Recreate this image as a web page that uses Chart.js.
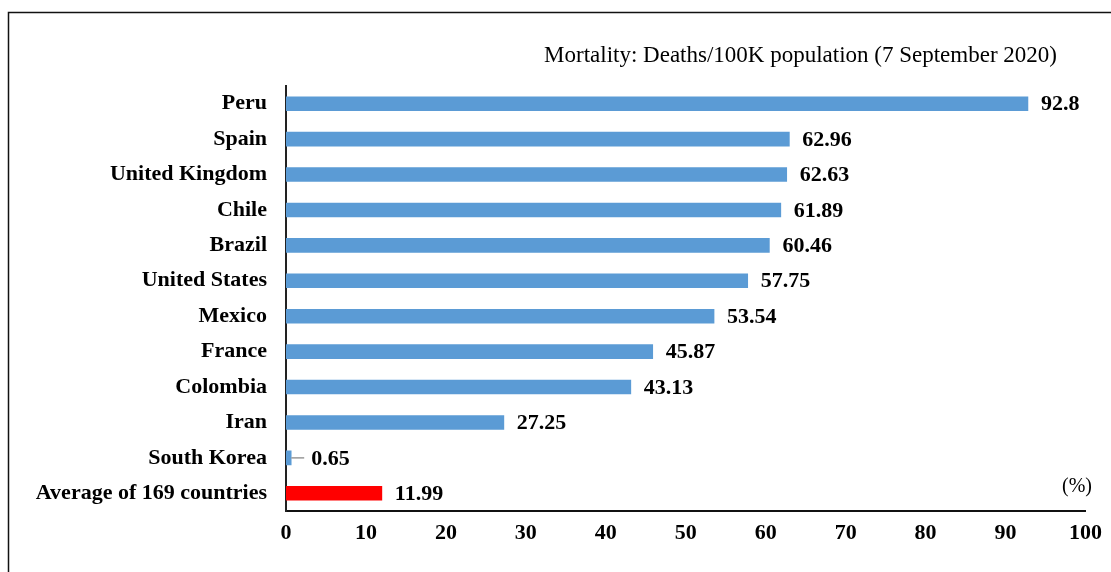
<!DOCTYPE html>
<html>
<head>
<meta charset="utf-8">
<script src="https://cdn.jsdelivr.net/npm/chart.js@4/dist/chart.umd.min.js"></script>
<style>
html,body{margin:0;padding:0;background:#fff;}
#wrap{width:1111px;height:572px;position:relative;}
</style>
</head>
<body>
<div id="wrap"><canvas id="c" width="1111" height="572"></canvas></div>
<script>
const categories = ["Peru","Spain","United Kingdom","Chile","Brazil","United States","Mexico","France","Colombia","Iran","South Korea","Average of 169 countries"];
const deaths = [92.8,62.96,62.63,61.89,60.46,57.75,53.54,45.87,43.13,27.25,0.65,11.99];
const barColors = ["#5B9BD5","#5B9BD5","#5B9BD5","#5B9BD5","#5B9BD5","#5B9BD5","#5B9BD5","#5B9BD5","#5B9BD5","#5B9BD5","#5B9BD5","#FF0000"];
const xTicks = [0,10,20,30,40,50,60,70,80,90,100];
const titleText = "Mortality: Deaths/100K population (7 September 2020)";
const unitText = "(%)";

const SERIF = '"Liberation Serif","Times New Roman",serif';

const decor = {
  id: 'decor',
  beforeDraw(chart) {
    const ctx = chart.ctx;
    ctx.save();
    ctx.fillStyle = '#fff';
    ctx.fillRect(0,0,chart.width,chart.height);
    ctx.strokeStyle = '#111';
    ctx.lineWidth = 1.5;
    ctx.beginPath();
    ctx.moveTo(8.5, chart.height);
    ctx.lineTo(8.5, 12.5);
    ctx.lineTo(chart.width, 12.5);
    ctx.stroke();
    ctx.restore();
  },
  afterDatasetsDraw(chart) {
    const ctx = chart.ctx;
    const meta = chart.getDatasetMeta(0);
    ctx.save();
    ctx.font = 'bold 22px ' + SERIF;
    ctx.fillStyle = '#000';
    ctx.textBaseline = 'middle';
    ctx.textAlign = 'left';
    meta.data.forEach((bar, i) => {
      const v = deaths[i];
      let x = bar.x + 13;
      if (v < 2) {
        ctx.strokeStyle = '#999';
        ctx.lineWidth = 1.5;
        ctx.beginPath();
        ctx.moveTo(bar.x, bar.y);
        ctx.lineTo(bar.x + 13, bar.y);
        ctx.stroke();
        x = bar.x + 20;
      }
      ctx.fillText(String(v), x, bar.y + 1);
    });
    ctx.font = '23px ' + SERIF;
    ctx.textAlign = 'right';
    ctx.fillText(titleText, 1057, 56);
    ctx.font = '20px ' + SERIF;
    ctx.fillText(unitText, 1092, 487);
    ctx.restore();
  }
};

new Chart(document.getElementById('c'), {
  type: 'bar',
  data: {
    labels: categories,
    datasets: [{
      data: deaths,
      backgroundColor: barColors,
      barThickness: 14,
      borderWidth: 0
    }]
  },
  options: {
    indexAxis: 'y',
    responsive: false,
    animation: false,
    devicePixelRatio: 1,
    layout: { padding: { top: 86, right: 25, left: 0, bottom: 0 } },
    plugins: { legend: { display: false }, tooltip: { enabled: false } },
    scales: {
      x: {
        min: 0, max: 100,
        afterBuildTicks: s => { s.ticks = xTicks.map(v => ({ value: v })); },
        afterFit: s => { s.height = 61; },
        grid: { display: false, drawTicks: false },
        border: { display: true, color: '#111', width: 2 },
        ticks: { color: '#000', padding: 9, maxRotation: 0, autoSkip: false, font: { family: SERIF, size: 22, weight: 'bold' } }
      },
      y: {
        afterFit: s => { s.width = 286; },
        grid: { display: false, drawTicks: false },
        border: { display: true, color: '#222', width: 2 },
        ticks: { color: '#000', padding: 19, autoSkip: false, font: { family: SERIF, size: 22, weight: 'bold' } }
      }
    }
  },
  plugins: [decor]
});
</script>
</body>
</html>
